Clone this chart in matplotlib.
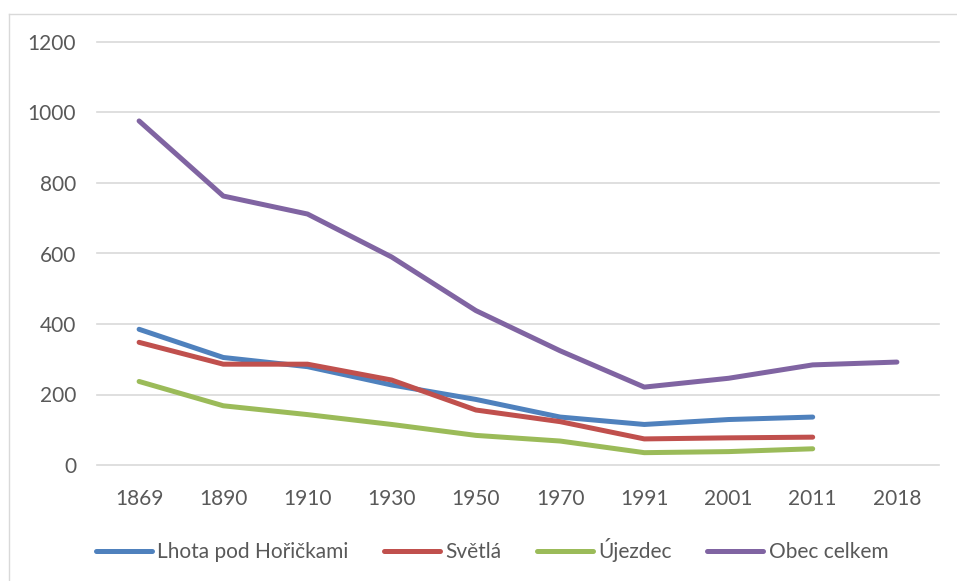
import matplotlib
matplotlib.use("Agg")
import matplotlib.pyplot as plt
from matplotlib.lines import Line2D

years = ["1869", "1890", "1910", "1930", "1950", "1970", "1991", "2001", "2011", "2018"]
lhota = [385, 305, 279, 227, 186, 136, 115, 129, 136, None]
svetla = [348, 286, 286, 241, 156, 123, 74, 77, 79, None]
ujezdec = [237, 168, 143, 115, 84, 68, 35, 38, 46, None]
obec = [976, 763, 712, 590, 438, 324, 221, 246, 284, 292]

series = [
    ("Lhota pod Hořičkami", lhota, "#4F81BD"),
    ("Světlá", svetla, "#C0504D"),
    ("Újezdec", ujezdec, "#9BBB59"),
    ("Obec celkem", obec, "#8064A2"),
]

plt.rcParams['font.family'] = ['Lato', 'DejaVu Sans']

W, H = 957, 581
fig = plt.figure(figsize=(W / 100, H / 100), dpi=100)
# outer chart border (top and left edges visible)
fig.add_artist(Line2D([8.5 / W, 1.0], [1 - 13.5 / H, 1 - 13.5 / H], transform=fig.transFigure,
                      color="#D9D9D9", linewidth=1))
fig.add_artist(Line2D([8.5 / W, 8.5 / W], [0.0, 1 - 13.5 / H], transform=fig.transFigure,
                      color="#D9D9D9", linewidth=1))

ax = fig.add_axes([97 / W, 1 - 465 / H, (939 - 97) / W, (465 - 42) / H])

x = list(range(len(years)))
for name, vals, col in series:
    xs = [i for i, v in zip(x, vals) if v is not None]
    ys = [v for v in vals if v is not None]
    ax.plot(xs, ys, color=col, linewidth=3.6, label=name, solid_capstyle="round",
            solid_joinstyle="round")

ax.set_xlim(-0.5, len(years) - 0.5)
ax.set_ylim(0, 1200)
ax.set_yticks(range(0, 1201, 200))
ax.set_xticks(x)
ax.set_xticklabels(years)
ax.grid(axis="y", color="#D9D9D9", linewidth=1.2)
for gl in ax.get_ygridlines():
    gl.set_clip_on(False)
ax.set_axisbelow(True)
for s in ax.spines.values():
    s.set_visible(False)
ax.tick_params(axis="both", length=0, labelsize=15, colors="#595959")
ax.tick_params(axis="y", pad=15)
ax.tick_params(axis="x", pad=17)

leg = fig.legend(loc="center", bbox_to_anchor=(492 / W, 1 - 550 / H), ncol=4, frameon=False,
                 fontsize=15, handlelength=2.7, handletextpad=0.25, columnspacing=1.7,
                 labelcolor="#595959")
for l in leg.get_lines():
    l.set_linewidth(3.6)

fig.savefig("out.png", dpi=100)
